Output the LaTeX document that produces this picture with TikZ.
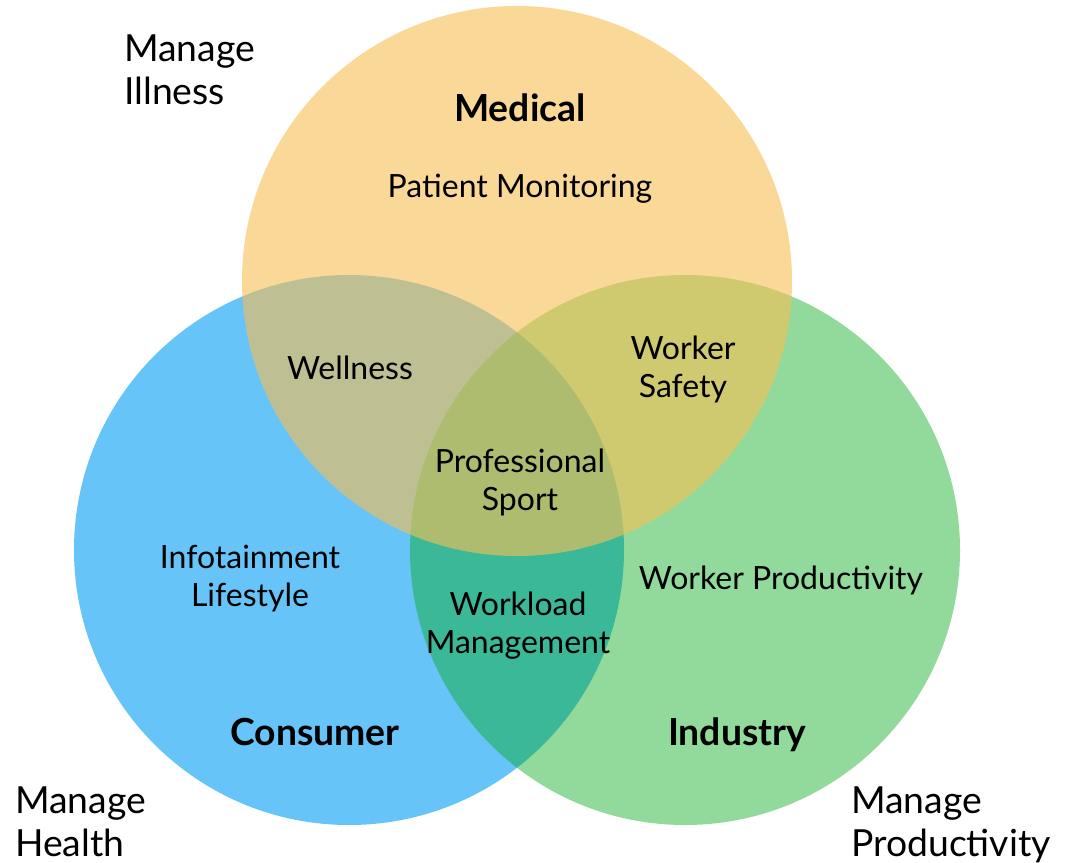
\documentclass[tikz,border=0pt]{standalone}
\usepackage{fontspec}
\setmainfont{Lato}
\definecolor{consumerblue}{RGB}{102,196,248}
\definecolor{industrygreen}{RGB}{2,169,25}
\definecolor{medicalorange}{RGB}{247,191,86}
\begin{document}
\begin{tikzpicture}[x=0.75pt, y=-0.75pt,
    label/.style={align=center, font=\fontsize{24}{28.5}\selectfont},
    title/.style={font=\fontsize{28}{32}\selectfont\bfseries},
    corner/.style={align=left, anchor=west, inner sep=0pt, font=\fontsize{28}{32}\selectfont}]
  \useasboundingbox (0,0) rectangle (1067,863);
  % the three circles
  \fill[consumerblue] (349,550) circle[radius=206.25pt];
  \fill[industrygreen, opacity=0.43] (685,550) circle[radius=206.25pt];
  \fill[medicalorange, opacity=0.61] (517,281) circle[radius=206.25pt];

  % circle titles
  \node[title] (medical) at (520,108) {Medical};
  \node[title] (consumer) at (315,732) {Consumer};
  \node[title] (industry) at (737,735) {Industry};

  % areas
  \node[label] (patient) at (520,189) {Patient Monitoring};
  \node[label] (wellness) at (350,368) {Wellness};
  \node[label] (safety) at (683,369) {Worker\\Safety};
  \node[label] (sport) at (520,482) {Professional\\Sport};
  \node[label] (lifestyle) at (250,579) {Infotainment\\Lifestyle};
  \node[label] (workload) at (518,626) {Workload\\Management};
  \node[label] (productivity) at (781,580) {Worker Productivity};

  % corner labels
  \node[corner] (illness) at (124,70) {Manage\\Illness};
  \node[corner] (health) at (15,822) {Manage\\Health};
  \node[corner] (manageprod) at (851,825) {Manage\\Productivity};
\end{tikzpicture}
\end{document}
